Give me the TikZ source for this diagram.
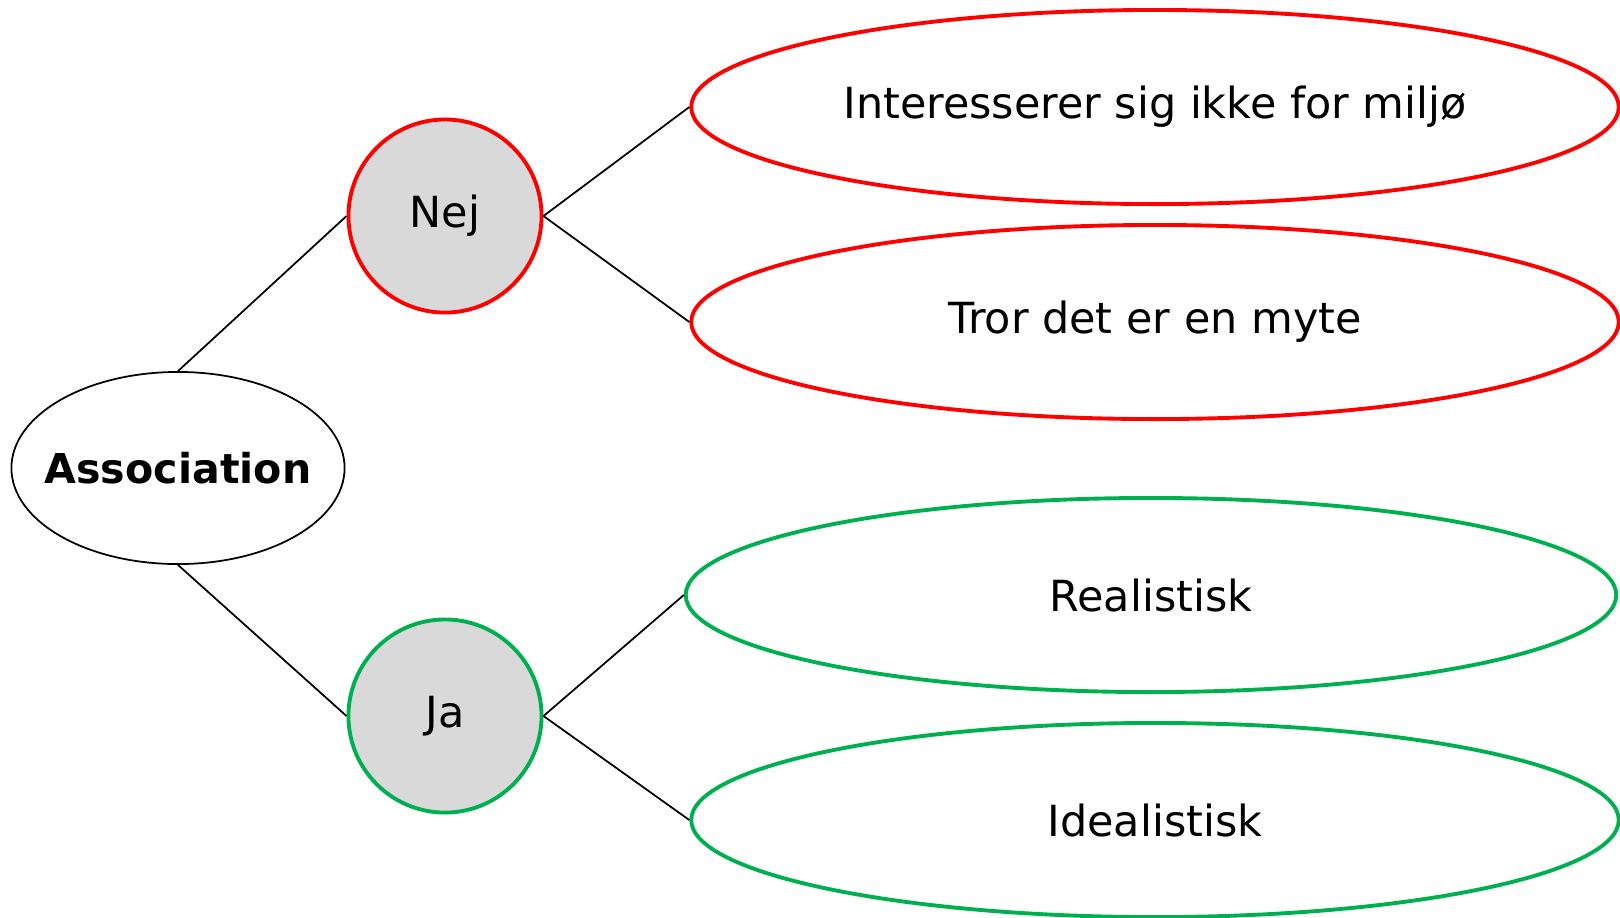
\documentclass[tikz,border=0pt]{standalone}
\usepackage{fontspec}
\setmainfont{DejaVu Sans}
\usetikzlibrary{shapes.geometric}
\definecolor{nejred}{RGB}{255,0,0}
\definecolor{jagreen}{RGB}{0,176,80}
\definecolor{knudgray}{RGB}{217,217,217}
\begin{document}
\begin{tikzpicture}[x=0.01cm, y=-0.01cm,
    every node/.style={font=\fontsize{12.2}{14}\selectfont, inner sep=0pt},
    rod/.style={draw, ellipse, line width=0.5pt, inner xsep=-0.2cm, minimum width=3.33cm, minimum height=1.92cm, font=\fontsize{11.7}{14}\selectfont\bfseries},
    knude/.style={draw, circle, fill=knudgray, line width=1.1pt, minimum size=1.93cm},
    svar/.style={draw, ellipse, line width=1.1pt, minimum width=9.27cm, minimum height=1.94cm}]
    \useasboundingbox (0, 0) rectangle (1620, 917);

    \node[rod] (assoc) at (178, 468) {Association};

    \node[knude, draw=nejred] (nej) at (445, 216) {Nej};
    \node[knude, draw=jagreen] (ja) at (445, 716) {Ja};

    \node[svar, draw=nejred] (miljo) at (1155, 107) {Interesserer sig ikke for miljø};
    \node[svar, draw=nejred] (myte) at (1155, 322) {Tror det er en myte};
    \node[svar, draw=jagreen, minimum width=9.3cm] (real) at (1151, 595) {Realistisk};
    \node[svar, draw=jagreen] (ideal) at (1155, 820) {Idealistisk};

    \draw[line width=0.5pt] (assoc.north) -- (nej.west);
    \draw[line width=0.5pt] (assoc.south) -- (ja.west);
    \draw[line width=0.5pt] (nej.east) -- (miljo.west);
    \draw[line width=0.5pt] (nej.east) -- (myte.west);
    \draw[line width=0.5pt] (ja.east) -- (real.west);
    \draw[line width=0.5pt] (ja.east) -- (ideal.west);
  \end{tikzpicture}
\end{document}
